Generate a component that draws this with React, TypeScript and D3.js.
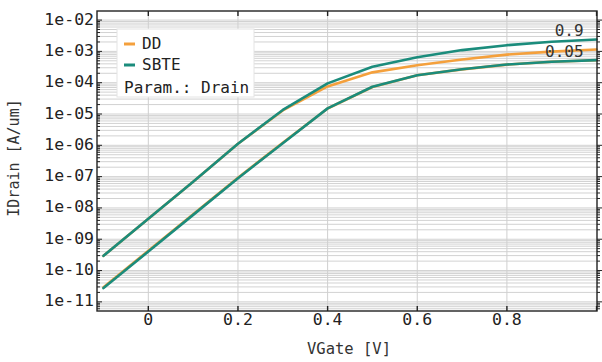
import React from 'react'
import * as d3 from 'd3'

// gate sweep (V)
const vgate = [-0.1, 0, 0.1, 0.2, 0.3, 0.4, 0.5, 0.6, 0.7, 0.8, 0.9, 1.0]

// drain current (A/um)
const ddDrain005 = [2.9e-11, 4.3e-10, 6.3e-9, 9.2e-8, 1.2e-6, 1.5e-5, 7.3e-5, 1.72e-4, 2.67e-4, 3.78e-4, 4.65e-4, 5.2e-4]
const sbteDrain005 = [2.75e-11, 4.05e-10, 6.0e-9, 8.9e-8, 1.17e-6, 1.51e-5, 7.4e-5, 1.74e-4, 2.69e-4, 3.8e-4, 4.68e-4, 5.25e-4]
const ddDrain09 = [2.95e-10, 4.47e-9, 6.9e-8, 1.12e-6, 1.3e-5, 7.6e-5, 2.14e-4, 3.63e-4, 5.5e-4, 7.9e-4, 9.8e-4, 1.15e-3]
const sbteDrain09 = [2.95e-10, 4.47e-9, 6.9e-8, 1.12e-6, 1.35e-5, 9.5e-5, 3.24e-4, 6.46e-4, 1.1e-3, 1.58e-3, 2.04e-3, 2.4e-3]

const xTicks = [0, 0.2, 0.4, 0.6, 0.8]
const yDecades = [-2, -3, -4, -5, -6, -7, -8, -9, -10, -11]
const legendItems = ['DD', 'SBTE']
const curveLabels = ['0.9', '0.05']

const ORANGE = '#f4a03c'
const TEAL = '#1b8c7c'
const FONT = '"DejaVu Sans Mono", monospace'

const App: React.FC = () => {
  const width = 602
  const height = 362
  const margin = { top: 11, right: 5, bottom: 51, left: 97 }
  const innerWidth = width - margin.left - margin.right
  const innerHeight = height - margin.top - margin.bottom

  const xScale = d3.scaleLinear().domain([-0.1145, 1.001]).range([0, innerWidth])
  const yScale = d3.scaleLog().domain([5.1e-12, 1.95e-2]).range([innerHeight, 0])

  const line = d3
    .line<number>()
    .x((_, i) => xScale(vgate[i]))
    .y((d) => yScale(d))

  // minor grid for every 1..9 x 10^n inside the domain
  const [yMin, yMax] = yScale.domain()
  const minor: number[] = []
  for (let e = -12; e <= -1; e++) {
    for (let m = 1; m <= 9; m++) {
      const v = m * Math.pow(10, e)
      if (v >= yMin && v <= yMax) minor.push(v)
    }
  }

  const fmtDecade = (e: number) => `1e-${String(-e).padStart(2, '0')}`

  const series = [
    { values: ddDrain005, color: ORANGE },
    { values: ddDrain09, color: ORANGE },
    { values: sbteDrain005, color: TEAL },
    { values: sbteDrain09, color: TEAL },
  ]

  const lastX = xScale(vgate[vgate.length - 1])

  return (
    <svg width={width} height={height} style={{ position: 'absolute', left: 0, top: 0, background: '#fff' }} fontFamily={FONT}>
      <g transform={`translate(${margin.left},${margin.top})`}>
        {/* horizontal minor grid */}
        {minor.map((v, i) => (
          <line key={'m' + i} x1={0} x2={innerWidth} y1={yScale(v)} y2={yScale(v)} stroke="#d2d2d2" strokeWidth={1} />
        ))}
        {/* vertical grid */}
        {xTicks.map((t) => (
          <line key={'vx' + t} x1={xScale(t)} x2={xScale(t)} y1={0} y2={innerHeight} stroke="#cfcfcf" strokeWidth={1} />
        ))}

        {/* curves */}
        {series.map((s, i) => (
          <path key={'s' + i} d={line(s.values) ?? ''} fill="none" stroke={s.color} strokeWidth={2.6} strokeLinejoin="round" strokeLinecap="round" />
        ))}

        {/* curve labels */}
        <text x={lastX - 13} y={yScale(sbteDrain09[sbteDrain09.length - 1]) - 8} textAnchor="end" fontSize={16} fill="#333" dominantBaseline="middle">
          {curveLabels[0]}
        </text>
        <text x={lastX - 13} y={yScale(ddDrain09[ddDrain09.length - 1]) + 3} textAnchor="end" fontSize={16} fill="#333" dominantBaseline="middle">
          {curveLabels[1]}
        </text>

        {/* legend */}
        <g transform="translate(20,18)">
          <rect x={0} y={0} width={137} height={68} fill="#fff" stroke="#e4e4e4" strokeWidth={1} />
          {legendItems.map((name, i) => (
            <g key={name} transform={`translate(0,${15 + i * 21})`}>
              <line x1={7} x2={18} y1={0} y2={0} stroke={i === 0 ? ORANGE : TEAL} strokeWidth={3} />
              <text x={25} y={0} fontSize={16} fill="#222" dominantBaseline="middle">
                {name}
              </text>
            </g>
          ))}
          <text x={7} y={59} fontSize={16} fill="#222" dominantBaseline="middle">
            Param.: Drain
          </text>
        </g>

        {/* frame */}
        <rect x={0} y={0} width={innerWidth} height={innerHeight} fill="none" stroke="#222" strokeWidth={1.4} />

        {/* left and right ticks */}
        {minor.map((v, i) => {
          const major = Math.abs(Math.log10(v) - Math.round(Math.log10(v))) < 1e-9
          const len = major ? 5 : 3
          return (
            <g key={'t' + i}>
              <line x1={0} x2={len} y1={yScale(v)} y2={yScale(v)} stroke="#222" strokeWidth={1} />
              <line x1={innerWidth} x2={innerWidth + len} y1={yScale(v)} y2={yScale(v)} stroke="#222" strokeWidth={1} />
            </g>
          )
        })}
        {/* top and bottom ticks */}
        {[...xTicks, 1.0].map((t) => (
          <g key={'xt' + t}>
            <line x1={xScale(t)} x2={xScale(t)} y1={0} y2={5} stroke="#222" strokeWidth={1.4} />
            <line x1={xScale(t)} x2={xScale(t)} y1={innerHeight} y2={innerHeight - 5} stroke="#222" strokeWidth={1.4} />
          </g>
        ))}

        {/* y tick labels */}
        {yDecades.map((e) => (
          <text key={'yl' + e} x={-3} y={yScale(Math.pow(10, e))} textAnchor="end" dominantBaseline="middle" fontSize={16.5} fill="#222">
            {fmtDecade(e)}
          </text>
        ))}
        {/* x tick labels */}
        {xTicks.map((t) => (
          <text key={'xl' + t} x={xScale(t)} y={innerHeight + 14} textAnchor="middle" fontSize={16.5} fill="#222">
            {d3.format('')(t)}
          </text>
        ))}

        {/* axis titles */}
        <text x={innerWidth / 2 + 2} y={innerHeight + 43} textAnchor="middle" fontSize={15.5} fill="#333">
          VGate [V]
        </text>
        <text transform={`translate(${-78},${innerHeight / 2 - 3}) rotate(-90)`} textAnchor="middle" fontSize={15} fill="#333">
          IDrain [A/um]
        </text>
      </g>
    </svg>
  )
}

export default App
